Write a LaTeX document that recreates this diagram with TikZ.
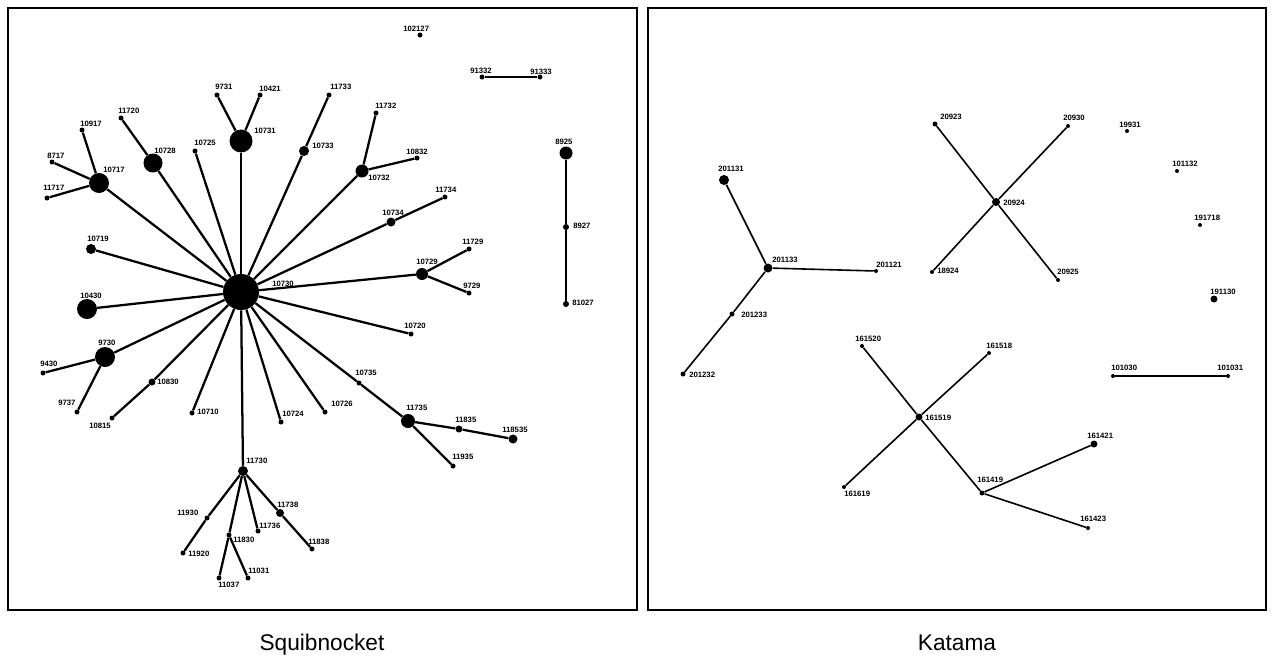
\documentclass[tikz,border=0pt]{standalone}
\usepackage{fontspec}
\setmainfont{Liberation Sans}
\tikzset{
  dot/.style={circle,fill=black,inner sep=0pt,draw=none},
  lbl/.style={anchor=west,inner sep=0pt,font=\fontsize{5.8}{6}\selectfont\bfseries},
  edgeL/.style={line width=1.7pt},
  edgeR/.style={line width=1.2pt},
  panel/.style={draw=black,line width=0.8pt,inner sep=0pt},
  title/.style={font=\fontsize{17}{20}\selectfont,inner sep=0pt,anchor=base}
}
\newcommand\vx[7]{\node[dot,minimum size=#4*0.75pt] (#1) at (#2,#3) {};
  \node[lbl] (L#1) at (#6,#7) {#5};}
\begin{document}
\begin{tikzpicture}[x=0.75pt,y=-0.75pt]
\useasboundingbox (0,0) rectangle (1273,668);
\node[panel,minimum width=629*0.75pt,minimum height=602*0.75pt] (P1) at (322.5,309) {};
\node[panel,minimum width=618*0.75pt,minimum height=602*0.75pt] (P2) at (957,309) {};
\node[title] (T1) at (322,650) {Squibnocket};
\node[title] (T2) at (957,650) {Katama};
% ---------- left panel ----------
\vx{C}{241}{292}{36}{10730}{272}{284}
\vx{a10731}{241}{141}{23}{10731}{254}{131}
\vx{a9731}{217}{95}{5}{9731}{215}{87}
\vx{a10421}{260}{95}{5}{10421}{259}{89}
\vx{a11733}{329}{95}{5}{11733}{330}{87}
\vx{a10733}{304}{151}{10}{10733}{312}{146}
\vx{a11732}{376}{113}{5}{11732}{375}{106}
\vx{a10732}{362}{171}{13}{10732}{368}{178}
\vx{a10832}{417}{158}{5}{10832}{406}{152}
\vx{a11734}{445}{197}{5}{11734}{435}{190}
\vx{a10734}{391}{222}{9}{10734}{382}{213}
\vx{a10717}{99}{183}{20}{10717}{103}{170}
\vx{a10917}{82}{130}{5}{10917}{80}{124}
\vx{a8717}{52}{162}{5}{8717}{47}{156}
\vx{a11717}{47}{198}{5}{11717}{43}{188}
\vx{a11720}{121}{118}{5}{11720}{118}{111}
\vx{a10728}{153}{163}{19}{10728}{154}{151}
\vx{a10725}{195}{151}{5}{10725}{194}{143}
\vx{a10719}{91}{249}{10}{10719}{87}{239}
\vx{a10430}{87}{309}{20}{10430}{80}{296}
\vx{a9730}{105}{357}{20}{9730}{98}{343}
\vx{a9430}{43}{373}{5}{9430}{40}{364}
\vx{a9737}{77}{412}{5}{9737}{58}{403}
\vx{a10830}{152}{382}{7}{10830}{157}{382}
\vx{a10815}{112}{418}{5}{10815}{89}{426}
\vx{a10710}{192}{413}{5}{10710}{197}{412}
\vx{a10724}{281}{422}{5}{10724}{282}{414}
\vx{a10726}{325}{412}{5}{10726}{331}{404}
\vx{a10720}{411}{334}{5}{10720}{404}{326}
\vx{a10729}{422}{274}{12}{10729}{416}{262}
\vx{a11729}{469}{249}{5}{11729}{462}{242}
\vx{a9729}{469}{293}{5}{9729}{463}{286}
\vx{a10735}{359}{383}{5}{10735}{355}{373}
\vx{a11735}{408}{421}{14}{11735}{406}{408}
\vx{a11835}{459}{429}{7}{11835}{455}{420}
\vx{a118535}{513}{439}{9}{118535}{502}{430}
\vx{a11935}{453}{466}{5}{11935}{452}{457}
\vx{a11730}{243}{471}{10}{11730}{246}{461}
\vx{a11930}{207}{518}{5}{11930}{177}{513}
\vx{a11920}{183}{553}{5}{11920}{188}{554}
\vx{a11830}{229}{535}{5}{11830}{233}{540}
\vx{a11037}{219}{578}{5}{11037}{218}{585}
\vx{a11031}{248}{578}{5}{11031}{248}{571}
\vx{a11736}{258}{531}{5}{11736}{259}{526}
\vx{a11738}{280}{513}{8}{11738}{277}{505}
\vx{a11838}{312}{549}{5}{11838}{308}{542}
\vx{a102127}{420}{35}{5}{102127}{403}{29}
\vx{a91332}{482}{77}{5}{91332}{470}{71}
\vx{a91333}{540}{77}{5}{91333}{530}{72}
\vx{a8925}{566}{153}{13}{8925}{555}{142}
\vx{a8927}{566}{227}{6}{8927}{573}{226}
\vx{a81027}{566}{304}{6}{81027}{572}{303}
\begin{scope}[edgeL]
\foreach \t in {a10731,a10733,a10732,a10734,a10717,a10728,a10725,a10719,a10430,a9730,a10830,a10710,a10724,a10726,a10735,a10720,a10729,a11730}
  \draw (C) -- (\t);
\draw (a10731) -- (a9731);
\draw (a10731) -- (a10421);
\draw (a10733) -- (a11733);
\draw (a10732) -- (a11732);
\draw (a10732) -- (a10832);
\draw (a10734) -- (a11734);
\draw (a10717) -- (a10917);
\draw (a10717) -- (a8717);
\draw (a10717) -- (a11717);
\draw (a10728) -- (a11720);
\draw (a9730) -- (a9430);
\draw (a9730) -- (a9737);
\draw (a10830) -- (a10815);
\draw (a10729) -- (a11729);
\draw (a10729) -- (a9729);
\draw (a10735) -- (a11735);
\draw (a11735) -- (a11835);
\draw (a11835) -- (a118535);
\draw (a11735) -- (a11935);
\draw (a11730) -- (a11930);
\draw (a11930) -- (a11920);
\draw (a11730) -- (a11830);
\draw (a11830) -- (a11037);
\draw (a11830) -- (a11031);
\draw (a11730) -- (a11736);
\draw (a11730) -- (a11738);
\draw (a11738) -- (a11838);
\draw (a91332) -- (a91333);
\draw (a8925) -- (a8927);
\draw (a8927) -- (a81027);
\end{scope}
% ---------- right panel ----------
\vx{b201131}{724}{180}{10}{201131}{718}{169}
\vx{b201133}{768}{268}{9}{201133}{772}{260}
\vx{b201121}{876}{271}{4}{201121}{876}{265}
\vx{b201233}{732}{314}{5}{201233}{741}{315}
\vx{b201232}{683}{374}{5}{201232}{689}{375}
\vx{b20923}{935}{124}{5}{20923}{940}{117}
\vx{b20930}{1068}{126}{4}{20930}{1063}{118}
\vx{b20924}{996}{202}{8}{20924}{1003}{203}
\vx{b18924}{932}{272}{4}{18924}{937}{271}
\vx{b20925}{1058}{280}{4}{20925}{1057}{272}
\vx{b19931}{1127}{131}{4}{19931}{1119}{125}
\vx{b101132}{1177}{171}{4}{101132}{1172}{164}
\vx{b191718}{1200}{225}{4}{191718}{1194}{218}
\vx{b191130}{1214}{299}{7}{191130}{1210}{292}
\vx{b161520}{862}{346}{4}{161520}{855}{339}
\vx{b161518}{989}{353}{4}{161518}{986}{346}
\vx{b161519}{919}{417}{7}{161519}{925}{418}
\vx{b161619}{844}{487}{4}{161619}{844}{494}
\vx{b161419}{982}{493}{5}{161419}{977}{480}
\vx{b161421}{1094}{444}{7}{161421}{1087}{436}
\vx{b161423}{1088}{528}{4}{161423}{1080}{519}
\vx{b101030}{1113}{376}{4}{101030}{1111}{368}
\vx{b101031}{1228}{376}{4}{101031}{1217}{368}
\begin{scope}[edgeR]
\draw (b201133) -- (b201131);
\draw (b201133) -- (b201121);
\draw (b201133) -- (b201233);
\draw (b201233) -- (b201232);
\draw (b20924) -- (b20923);
\draw (b20924) -- (b20930);
\draw (b20924) -- (b18924);
\draw (b20924) -- (b20925);
\draw (b161519) -- (b161520);
\draw (b161519) -- (b161518);
\draw (b161519) -- (b161619);
\draw (b161519) -- (b161419);
\draw (b161419) -- (b161421);
\draw (b161419) -- (b161423);
\draw (b101030) -- (b101031);
\end{scope}
\end{tikzpicture}
\end{document}
